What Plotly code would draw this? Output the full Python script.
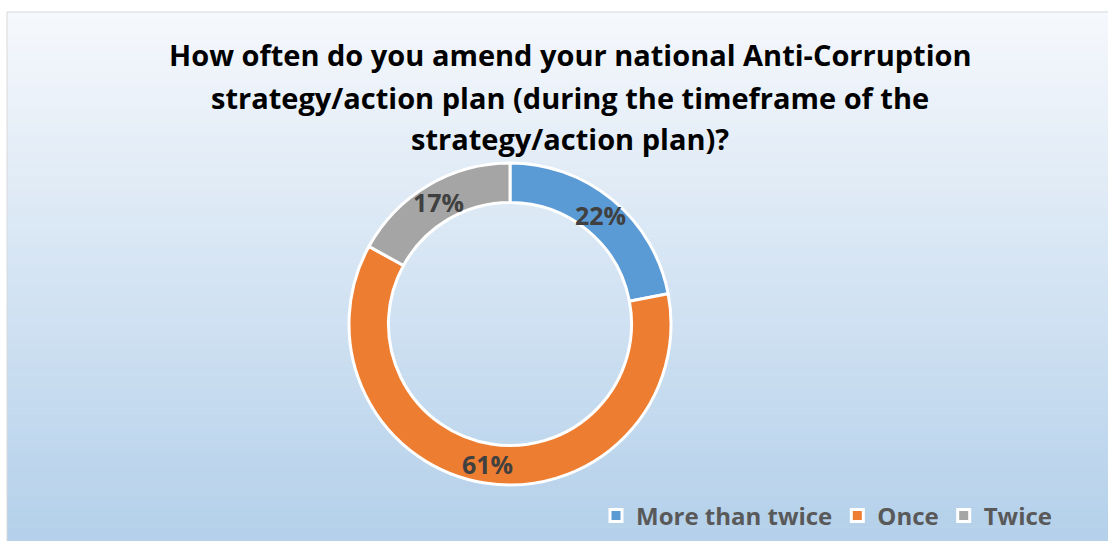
import math
import plotly.graph_objects as go

# Survey answers and their shares (percent)
categories = ["More than twice", "Once", "Twice"]
shares = [22, 61, 17]
slice_colors = ["#5B9BD5", "#ED7D31", "#A5A5A5"]

title_lines = [
    "How often do you amend your national Anti-Corruption",
    "strategy/action plan (during the timeframe of the",
    "strategy/action plan)?",
]

W, H = 1108, 541
FONT = "Open Sans"

# Ring geometry in pixels
CX, CY, R_OUT = 510, 324, 161
HOLE = 0.755

fig = go.Figure()

fig.add_trace(go.Pie(
    labels=categories,
    values=shares,
    hole=HOLE,
    sort=False,
    direction="clockwise",
    rotation=0,
    marker=dict(colors=slice_colors, line=dict(color="white", width=3)),
    textinfo="none",
    domain=dict(x=[(CX - R_OUT) / W, (CX + R_OUT) / W],
                y=[1 - (CY + R_OUT) / H, 1 - (CY - R_OUT) / H]),
    showlegend=True,
    hoverinfo="label+percent",
))

# Percentage labels at the middle of each ring segment
annotations = []
total = sum(shares)
r_mid = R_OUT * (1 + HOLE) / 2
acc = 0
for v in shares:
    mid = (acc + v / 2) / total * 2 * math.pi
    acc += v
    px = CX + r_mid * math.sin(mid)
    py = CY - r_mid * math.cos(mid)
    annotations.append(dict(
        text="<b>%d%%</b>" % round(100 * v / total),
        xref="paper", yref="paper", x=px / W, y=1 - py / H,
        xanchor="center", yanchor="middle", showarrow=False,
        font=dict(family=FONT, size=25, color="#404040"),
    ))

# Chart area: soft vertical gradient from near-white to light blue
x0, y0 = 7 / W, 1 - 12 / H
top = (245, 248, 252)
bot = (180, 208, 234)
n = 80
shapes = []
for i in range(n):
    t = i / (n - 1)
    c = tuple(round(top[k] + (bot[k] - top[k]) * t) for k in range(3))
    ya = y0 - y0 * i / n
    yb = y0 - y0 * (i + 1) / n
    shapes.append(dict(type="rect", xref="paper", yref="paper",
                       x0=x0, x1=1, y0=yb, y1=ya + 0.001,
                       fillcolor="rgb(%d,%d,%d)" % c, line=dict(width=0),
                       layer="below"))
shapes.append(dict(type="rect", xref="paper", yref="paper",
                   x0=x0, x1=1.01, y0=-0.01, y1=y0,
                   fillcolor="rgba(0,0,0,0)", line=dict(color="#D9D9D9", width=1),
                   layer="below"))

for i, line in enumerate(title_lines):
    annotations.append(dict(
        text="<b>%s</b>" % line, xref="paper", yref="paper",
        x=570 / W, y=1 - (55 + 42 * i) / H, xanchor="center", yanchor="middle",
        showarrow=False,
        font=dict(family=FONT, size=29, color="#000000"),
    ))

fig.update_layout(
    width=W, height=H,
    margin=dict(l=0, r=0, t=0, b=0),
    paper_bgcolor="white",
    plot_bgcolor="rgba(0,0,0,0)",
    shapes=shapes,
    annotations=annotations,
    legend=dict(
        orientation="h",
        x=1058 / W, xanchor="right",
        y=1 - 516 / H, yanchor="middle",
        bgcolor="rgba(0,0,0,0)",
        font=dict(family=FONT, size=24, color="#595959", weight="bold"),
        traceorder="normal",
    ),
)

fig.write_html("out.html")
